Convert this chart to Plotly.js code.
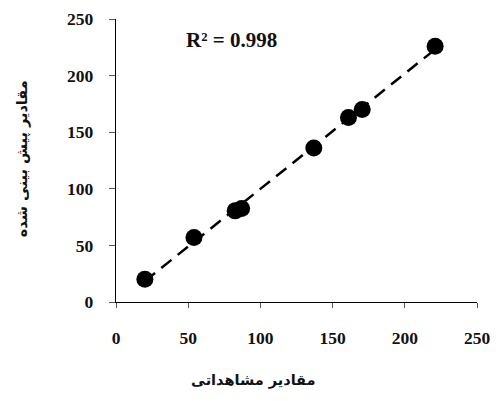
<!DOCTYPE html>
<html>
<head>
<meta charset="utf-8">
<script src="https://cdn.plot.ly/plotly-3.0.1.min.js"></script>
<style>html,body{margin:0;padding:0;background:#fff;}#chart{width:496px;height:401px;}</style>
</head>
<body>
<div id="chart"></div>
<script>
const observed = [20, 54, 82.5, 87, 137, 161, 170.5, 221];
const predicted = [20, 57, 80.5, 82.5, 136, 163, 170, 226];
const xTicks = [0, 50, 100, 150, 200, 250];
const yTicks = [0, 50, 100, 150, 200, 250];
const r2Label = "R\u00B2 = 0.998";
const xTitle = "مقادیر مشاهداتی";
const yTitle = "مقادیر پیش بینی شده";

// least-squares fit for the dashed trend line
const n = observed.length;
const mx = observed.reduce((a,b)=>a+b,0)/n;
const my = predicted.reduce((a,b)=>a+b,0)/n;
let sxy = 0, sxx = 0;
for (let i=0;i<n;i++){ sxy += (observed[i]-mx)*(predicted[i]-my); sxx += (observed[i]-mx)**2; }
const slope = sxy/sxx, intercept = my - slope*mx;
const xmin = Math.min(...observed), xmax = Math.max(...observed);
const fitX = [xmin, xmax];
const fitY = fitX.map(v => slope*v + intercept);

const tickFont = {family: "Liberation Serif, Times New Roman, serif", size: 17.5, color: "#111", weight: "bold"};
const arFont = {family: "DejaVu Sans, Noto Sans, sans-serif", size: 14.5, color: "#111", weight: "bold"};

const data = [
  {x: fitX, y: fitY, mode: "lines", line: {color: "#000", width: 2.5, dash: "13px,8px"}, hoverinfo: "skip"},
  {x: observed, y: predicted, mode: "markers", marker: {color: "#000", size: 17}}
];

const layout = {
  width: 496, height: 401,
  margin: {l: 116, r: 19, t: 19, b: 99},
  showlegend: false,
  paper_bgcolor: "#fff", plot_bgcolor: "#fff",
  xaxis: {
    range: [0, 250], tickvals: xTicks, ticktext: xTicks.map(String),
    showgrid: false, zeroline: false, showline: true, linecolor: "#000", linewidth: 1.3,
    ticks: "outside", ticklen: 5, tickwidth: 1, tickcolor: "#555",
    tickfont: tickFont, ticklabelstandoff: 15
  },
  yaxis: {
    range: [0, 250], tickvals: yTicks, ticktext: yTicks.map(String),
    showgrid: false, zeroline: false, showline: true, linecolor: "#000", linewidth: 1.3,
    ticks: "outside", ticklen: 6, tickwidth: 1, tickcolor: "#555",
    tickfont: tickFont, ticklabelstandoff: 12
  },
  annotations: [
    {text: r2Label, xref: "paper", yref: "paper", x: 0.319, y: 0.926, xanchor: "center", yanchor: "middle", showarrow: false,
     font: {family: "Liberation Serif, Times New Roman, serif", size: 21, color: "#111", weight: "bold"}},
    {text: yTitle, xref: "paper", yref: "paper", x: -0.26, y: 0.505, xanchor: "center", yanchor: "middle", textangle: -90, showarrow: false, font: arFont},
    {text: xTitle, xref: "paper", yref: "paper", x: 0.38, y: -0.276, xanchor: "center", yanchor: "middle", showarrow: false, font: arFont}
  ]
};

Plotly.newPlot("chart", data, layout, {displayModeBar: false, staticPlot: true});
</script>
</body>
</html>
